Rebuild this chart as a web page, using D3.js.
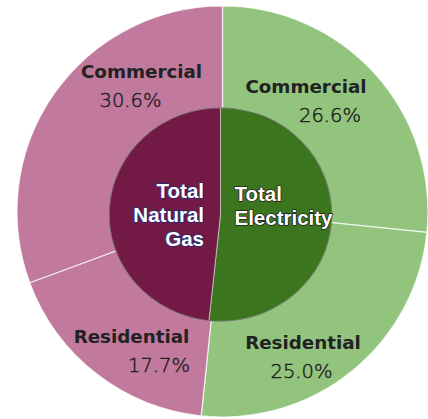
<!DOCTYPE html>
<html>
<head>
<meta charset="utf-8">
<script src="https://cdn.jsdelivr.net/npm/d3@7"></script>
<style>
  html, body { margin: 0; padding: 0; background: #fff; }
  svg { display: block; }
</style>
</head>
<body>
<svg id="chart" width="428" height="419"></svg>
<script>
// Energy use shares, outer ring (clockwise from 12 o'clock)
const segments = ["Commercial", "Residential", "Residential", "Commercial"];
const fuels = ["Electricity", "Electricity", "Natural Gas", "Natural Gas"];
const shares = [26.6, 25.0, 17.7, 30.6];

// Inner pie: fuel totals
const fuelNames = ["Electricity", "Natural Gas"];
const fuelTitles = [["Total", "Electricity"], ["Total", "Natural", "Gas"]];

// Colours
const outerColor = { "Electricity": "#93c47d", "Natural Gas": "#c17a9e" };
const innerColor = { "Electricity": "#3b761f", "Natural Gas": "#721a45" };

// Layout
const W = 428, H = 419;
const cx = 222.5, cy = 211.5, R = 205.5;
const inner = { dx: -2, dy: 3, rx: 111.4, ry: 106.8 };

// Label anchor offsets from the centre: [name dx, name dy, pct dx, pct dy]
const labelOffsets = [
  [83.5, -118.8, 107.5, -89.8],
  [80.5, 137.5, 79, 166.5],
  [-91, 131.5, -63.5, 160.5],
  [-81, -133.5, -92, -104.5]
];

const svg = d3.select("#chart");
const g = svg.append("g").attr("transform", `translate(${cx},${cy})`);

const rows = shares.map((v, i) => ({ segment: segments[i], fuel: fuels[i], value: v }));
const totals = fuelNames.map(f => ({
  fuel: f,
  value: d3.sum(rows.filter(r => r.fuel === f), r => r.value)
}));

const pie = d3.pie().sort(null).value(d => d.value);

// Outer ring (drawn as a full pie; the inner pie covers its centre)
const outerArc = d3.arc().innerRadius(0).outerRadius(R);
g.append("g").selectAll("path")
  .data(pie(rows))
  .join("path")
  .attr("d", outerArc)
  .attr("fill", d => outerColor[d.data.fuel])
  .attr("stroke", "rgba(255,255,255,0.75)")
  .attr("stroke-width", 1.2)
  .attr("stroke-linejoin", "round");

// Inner pie of fuel totals, slightly elliptical
const innerG = g.append("g")
  .attr("transform", `translate(${inner.dx},${inner.dy}) scale(${inner.rx / 100},${inner.ry / 100})`);
const innerArc = d3.arc().innerRadius(0).outerRadius(100);
innerG.selectAll("path")
  .data(pie(totals))
  .join("path")
  .attr("d", innerArc)
  .attr("fill", d => innerColor[d.data.fuel])
  .attr("stroke", "rgba(230,230,230,0.6)")
  .attr("stroke-width", 0.9);
innerG.append("circle")
  .attr("r", 100)
  .attr("fill", "none")
  .attr("stroke", "rgba(40,40,40,0.45)")
  .attr("stroke-width", 0.9);

// Outer labels
const labels = g.append("g");
rows.forEach((r, i) => {
  const o = labelOffsets[i];
  labels.append("text")
    .attr("x", o[0]).attr("y", o[1])
    .attr("text-anchor", "middle")
    .attr("font-family", "'DejaVu Sans', sans-serif")
    .attr("font-weight", 700)
    .attr("font-size", 18.3)
    .attr("fill", "#222222")
    .text(r.segment);
  labels.append("text")
    .attr("x", o[2]).attr("y", o[3])
    .attr("text-anchor", "middle")
    .attr("font-family", "'DejaVu Sans', sans-serif")
    .attr("font-weight", 300)
    .attr("font-size", 19.5)
    .attr("fill", "#1c1c1c")
    .attr("stroke", "#1c1c1c")
    .attr("stroke-width", 0.45)
    .text(d3.format(".1f")(r.value) + "%");
});

// Inner titles
const titleStyle = {
  "Electricity": { x: 12, y0: -10.5, anchor: "start", stroke: "#1e1e1e" },
  "Natural Gas": { x: -18.5, y0: -13.5, anchor: "end", stroke: "#1c2a78" }
};
fuelNames.forEach((f, i) => {
  const s = titleStyle[f];
  const t = g.append("text")
    .attr("text-anchor", s.anchor)
    .attr("font-family", "'Liberation Sans', Arial, sans-serif")
    .attr("font-weight", 700)
    .attr("font-size", 20.5)
    .attr("fill", "#ffffff")
    .attr("stroke", s.stroke)
    .attr("stroke-width", 1.6)
    .attr("paint-order", "stroke")
    .attr("stroke-linejoin", "round");
  fuelTitles[i].forEach((line, j) => {
    t.append("tspan")
      .attr("x", s.x)
      .attr("y", s.y0 + j * 24)
      .text(line);
  });
});
</script>
</body>
</html>
